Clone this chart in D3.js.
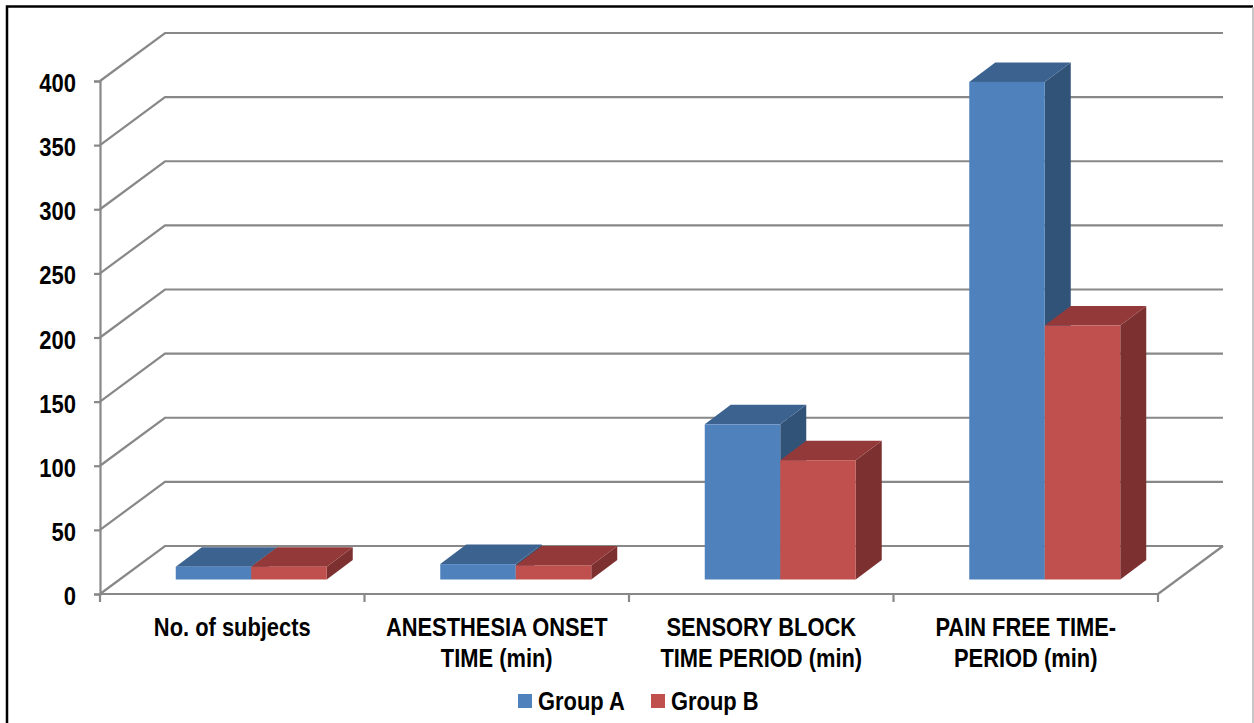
<!DOCTYPE html>
<html>
<head>
<meta charset="utf-8">
<script src="https://cdn.jsdelivr.net/npm/d3@7"></script>
<style>
  html, body { margin: 0; padding: 0; background: #fff; }
  svg { display: block; }
  text { font-family: "Liberation Sans", sans-serif; font-weight: bold; fill: #000; }
</style>
</head>
<body>
<svg width="1254" height="723"></svg>
<script>
const categories = ['No. of subjects', 'ANESTHESIA ONSET TIME (min)', 'SENSORY BLOCK TIME PERIOD (min)', 'PAIN FREE TIME-PERIOD (min)'];
const categoryLines = [['No. of subjects'], ['ANESTHESIA ONSET', 'TIME (min)'], ['SENSORY BLOCK', 'TIME PERIOD (min)'], ['PAIN FREE TIME-', 'PERIOD (min)']];
const groupA = [10, 12, 121, 388];
const groupB = [10, 11, 93, 198];
const yTicks = [0, 50, 100, 150, 200, 250, 300, 350, 400];
const seriesNames = ['Group A', 'Group B'];

const colors = {
  'Group A': {front: '#4f81bd', top: '#3c6390', side: '#325378'},
  'Group B': {front: '#c0504d', top: '#93393a', side: '#7c3130'}
};
const gridColor = '#888888';

const svg = d3.select('svg');

// no narrow font here, so squeeze the regular one
const narrow = (sel, factor) => sel.each(function() {
  d3.select(this)
    .attr('textLength', this.getComputedTextLength() * factor)
    .attr('lengthAdjust', 'spacingAndGlyphs');
});

// frame
svg.append('path').attr('d', 'M7,723V6.5H1253').attr('fill', 'none').attr('stroke', '#000').attr('stroke-width', 2.5);
svg.append('line').attr('x1', 1253).attr('x2', 1253).attr('y1', 7).attr('y2', 723).attr('stroke', '#b5b5b5').attr('stroke-width', 1.5);

const margin = {left: 100, right: 1158, top: 81, bottom: 594};
const wall = {dx: 65, dy: -48};   // depth of the chart box
const barDepth = {dx: 26, dy: -19.5};
const barShift = {dx: 19.5, dy: -14.5}; // bars sit a bit behind the front edge

const x = d3.scaleBand().domain(categories).range([margin.left, margin.right]);
const y = d3.scaleLinear().domain([0, 400]).range([margin.bottom, margin.top]);
const inner = d3.scaleBand().domain(seriesNames).range([0, 151]);

// back wall gridlines + left wall diagonals
const grid = svg.append('g').attr('fill', 'none').attr('stroke', gridColor).attr('stroke-width', 2.2);
yTicks.forEach(t => {
  grid.append('path').attr('d', d3.line()([
    [margin.left, y(t)],
    [margin.left + wall.dx, y(t) + wall.dy],
    [margin.right + wall.dx, y(t) + wall.dy]
  ]));
});
// floor edge on the right
grid.append('line')
  .attr('x1', margin.right).attr('y1', y(0))
  .attr('x2', margin.right + wall.dx).attr('y2', y(0) + wall.dy);

// axes
const yAxis = d3.axisLeft(y).tickValues(yTicks).tickSize(6).tickPadding(18);
const yAxisG = svg.append('g').attr('transform', `translate(${margin.left},0)`).call(yAxis);
yAxisG.selectAll('line').attr('stroke', gridColor).attr('stroke-width', 2.2);
yAxisG.select('.domain').attr('stroke', gridColor).attr('stroke-width', 2.2);
yAxisG.selectAll('text')
  .attr('font-size', 25).attr('font-family', null)
  .attr('dy', '0.42em')
  .call(narrow, 0.88);

const xAxis = d3.axisBottom(x).tickSize(0).tickFormat('');
const xAxisG = svg.append('g').attr('transform', `translate(0,${margin.bottom})`).call(xAxis);
xAxisG.select('.domain').attr('stroke', gridColor).attr('stroke-width', 2.2).attr('d', `M${margin.left},0H${margin.right}`);
const boundaries = categories.map(c => x(c)).concat(margin.right);
svg.append('g').selectAll('line').data(boundaries).enter().append('line')
  .attr('x1', d => d).attr('x2', d => d)
  .attr('y1', margin.bottom).attr('y2', margin.bottom + 8)
  .attr('stroke', gridColor).attr('stroke-width', 2.2);

// bars, back to front left to right
const bars = svg.append('g');
const groupStart = c => x(c) + x.bandwidth() / 2 - 76 + barShift.dx;
const drawBar = (cat, name, value) => {
  const c = colors[name];
  const x0 = groupStart(cat) + inner(name);
  const x1 = x0 + inner.bandwidth();
  const yTop = y(value) + barShift.dy;
  const yBase = y(0) + barShift.dy;
  const d = barDepth;
  bars.append('path').attr('fill', c.side)
    .attr('d', d3.line()([[x1, yTop], [x1 + d.dx, yTop + d.dy], [x1 + d.dx, yBase + d.dy], [x1, yBase]]) + 'Z');
  bars.append('path').attr('fill', c.top)
    .attr('d', d3.line()([[x0, yTop], [x0 + d.dx, yTop + d.dy], [x1 + d.dx, yTop + d.dy], [x1, yTop]]) + 'Z');
  bars.append('rect').attr('fill', c.front)
    .attr('x', x0).attr('y', yTop).attr('width', x1 - x0).attr('height', yBase - yTop);
};
categories.forEach((cat, i) => {
  drawBar(cat, 'Group A', groupA[i]);
  drawBar(cat, 'Group B', groupB[i]);
});

// category labels, one text per line
const labels = svg.append('g').attr('text-anchor', 'middle').attr('font-size', 25);
categories.forEach((cat, i) => {
  categoryLines[i].forEach((line, j) => {
    labels.append('text')
      .attr('x', x(cat) + x.bandwidth() / 2)
      .attr('y', 635.5 + j * 31)
      .text(line)
      .call(narrow, 0.875);
  });
});

// legend
const legendX = [518, 651];
const legend = svg.append('g').selectAll('g').data(seriesNames).enter().append('g')
  .attr('transform', (d, i) => `translate(${legendX[i]},694)`);
legend.append('rect').attr('width', 14).attr('height', 14).attr('fill', d => colors[d].front);
legend.append('text').attr('x', 20).attr('y', 16).attr('font-size', 25).text(d => d).call(narrow, 0.875);
</script>
</body>
</html>
